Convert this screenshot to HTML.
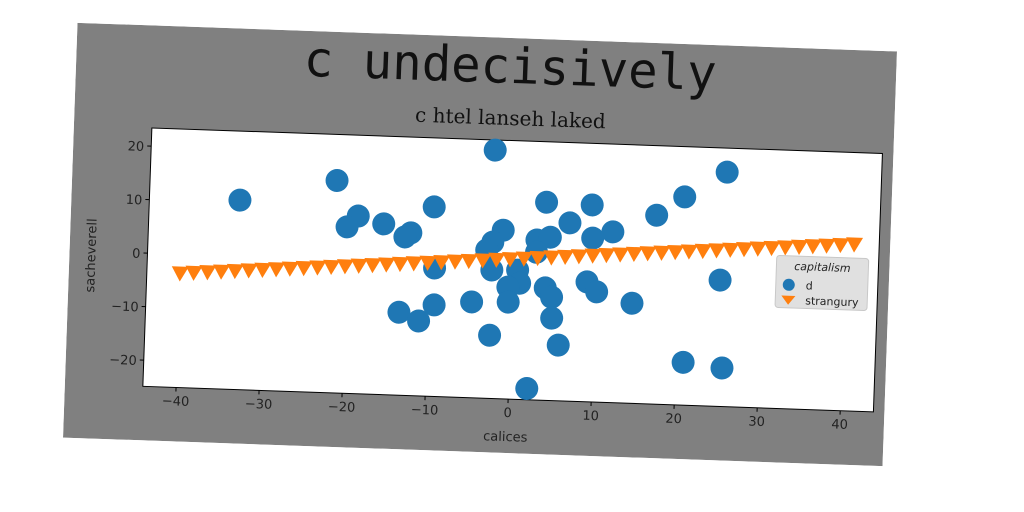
<!DOCTYPE html>
<html><head><meta charset="utf-8">
<style>
html,body{margin:0;padding:0;background:#fff;width:1024px;height:512px;overflow:hidden}
#panel{position:absolute;left:70px;top:37px;width:820px;height:415px;transform:rotate(2deg);transform-origin:50% 50%}
svg text{font-family:"DejaVu Sans","Liberation Sans",sans-serif}
</style></head><body>
<div id="panel">
<svg id="chart" width="820" height="415" xmlns="http://www.w3.org/2000/svg">
<rect x="0" y="0" width="820" height="415" fill="#808080"/>
<text x="434" y="45" text-anchor="middle" font-size="49" style="font-family:'DejaVu Sans Mono','Liberation Mono',monospace" fill="#111">c undecisively</text>
<text x="436" y="87" text-anchor="middle" font-size="20" style="font-family:'DejaVu Serif','Liberation Serif',serif" fill="#111">c htel lanseh laked</text>
<rect x="78" y="102.5" width="731" height="258.5" fill="#fff" stroke="#000" stroke-width="1"/>
<g id="xticks"></g>
<g id="yticks"></g>
<g id="marks"></g>
<text x="442" y="403" text-anchor="middle" font-size="13" fill="#222">calices</text>
<text x="26" y="232" text-anchor="middle" font-size="13" fill="#222" transform="rotate(-90 26 232)">sacheverell</text>
<g>
<rect x="707" y="208" width="92" height="52" rx="3" fill="#e0e0e0" stroke="#c8c8c8"/>
<text x="753" y="222" text-anchor="middle" font-size="11" font-style="italic" fill="#222">capitalism</text>
<circle cx="720" cy="237" r="6" fill="#1f77b4"/>
<text x="737" y="241" font-size="11" fill="#222">d</text>
<path d="M713,248 L727,248 L720,257 Z" fill="#ff7f0e"/>
<text x="737" y="256" font-size="11" fill="#222">strangury</text>
</g>
</svg>
</div>
<script>
const xTicks=[-40,-30,-20,-10,0,10,20,30,40];
const yTicks=[-20,-10,0,10,20];
const dX=[-33.1,-21.5,-18.8,-20.1,-15.7,-12.4,-13.1,-9.7,-9.4,-13.5,-11.1,-9.3,-4.8,-2.6,3.8,9.3,-1.3,-2.5,-3.2,2.8,4.4,6.7,11.9,9.5,-2.5,0.6,0.9,-0.5,-0.4,-2.5,2.2,4.0,4.8,4.9,5.8,9.0,10.2,14.5,17.1,20.4,25.4,25.0,20.9,25.6,2.8];
const dY=[10.5,14.8,8.3,6.2,7.0,5.5,4.7,10.5,-0.9,-9.4,-10.9,-7.8,-7.0,21.5,12.1,11.9,6.6,4.3,2.8,5.0,5.6,8.4,7.0,5.7,-0.9,-0.75,-3.2,-4.0,-6.8,-13.1,-22.8,-3.9,-5.6,-9.5,-14.5,-2.5,-4.3,-6.2,10.4,14.0,18.9,-1.3,-16.9,-17.7,2.7];
const sX=[-40,-38.35,-36.69,-35.04,-33.39,-31.73,-30.08,-28.43,-26.78,-25.12,-23.47,-21.82,-20.16,-18.51,-16.86,-15.2,-13.55,-11.9,-10.24,-8.59,-6.94,-5.29,-3.63,-1.98,-0.33,1.33,2.98,4.63,6.29,7.94,9.59,11.24,12.9,14.55,16.2,17.86,19.51,21.16,22.82,24.47,26.12,27.78,29.43,31.08,32.73,34.39,36.04,37.69,39.35,41];
const sY=[-3.5,-3.3,-3.1,-2.9,-2.7,-2.5,-2.3,-2.1,-1.9,-1.7,-1.5,-1.3,-1.1,-0.9,-0.7,-0.5,-0.3,-0.1,0.1,0.3,0.5,0.7,0.9,1.1,1.3,1.5,1.7,1.9,2.1,2.3,2.5,2.7,2.9,3.1,3.3,3.5,3.7,3.9,4.1,4.3,4.5,4.7,4.9,5.1,5.3,5.5,5.7,5.9,6.1,6.3];
const NS="http://www.w3.org/2000/svg";
const PL=78,PT=102.5,PW=731,PH=258.5,XMIN=-44,XMAX=44,YMIN=-24.9,YMAX=23.4;
function sx(v){return PL+(v-XMIN)/(XMAX-XMIN)*PW;}
function sy(v){return PT+(YMAX-v)/(YMAX-YMIN)*PH;}
function mk(t,a){const e=document.createElementNS(NS,t);for(const k in a)e.setAttribute(k,a[k]);return e;}
const gx=document.getElementById('xticks'),gy=document.getElementById('yticks'),gm=document.getElementById('marks');
xTicks.forEach(v=>{const x=sx(v);
 const l=mk('line',{x1:x,x2:x,y1:PT+PH,y2:PT+PH+4,stroke:'#000'});
 
 
 gx.appendChild(l);
 const t=mk('text',{x:x,y:PT+PH+18,'text-anchor':'middle','font-size':13,fill:'#222'});
 t.textContent=v<0?'\u2212'+(-v):String(v);
 
 
 gx.appendChild(t);});
yTicks.forEach(v=>{const y=sy(v);
 const l=mk('line',{x1:PL-4,x2:PL,y1:y,y2:y,stroke:'#000'});
 
 
 gy.appendChild(l);
 const t=mk('text',{x:PL-7,y:y+5,'text-anchor':'end','font-size':13,fill:'#222'});
 t.textContent=v<0?'\u2212'+(-v):String(v);
 
 
 gy.appendChild(t);});
dX.forEach((v,i)=>{const c=mk('circle',{cx:sx(v),cy:sy(dY[i]),r:11.5,fill:'#1f77b4'});
 
 
 gm.appendChild(c);});
sX.forEach((v,i)=>{const x=sx(v),y=sy(sY[i]);
 const p=mk('path',{d:`M${x-8.5},${y-6.5} L${x+8.5},${y-6.5} L${x},${y+8.5} Z`,fill:'#ff7f0e'});
 
 
 gm.appendChild(p);});
</script>
</body></html>
